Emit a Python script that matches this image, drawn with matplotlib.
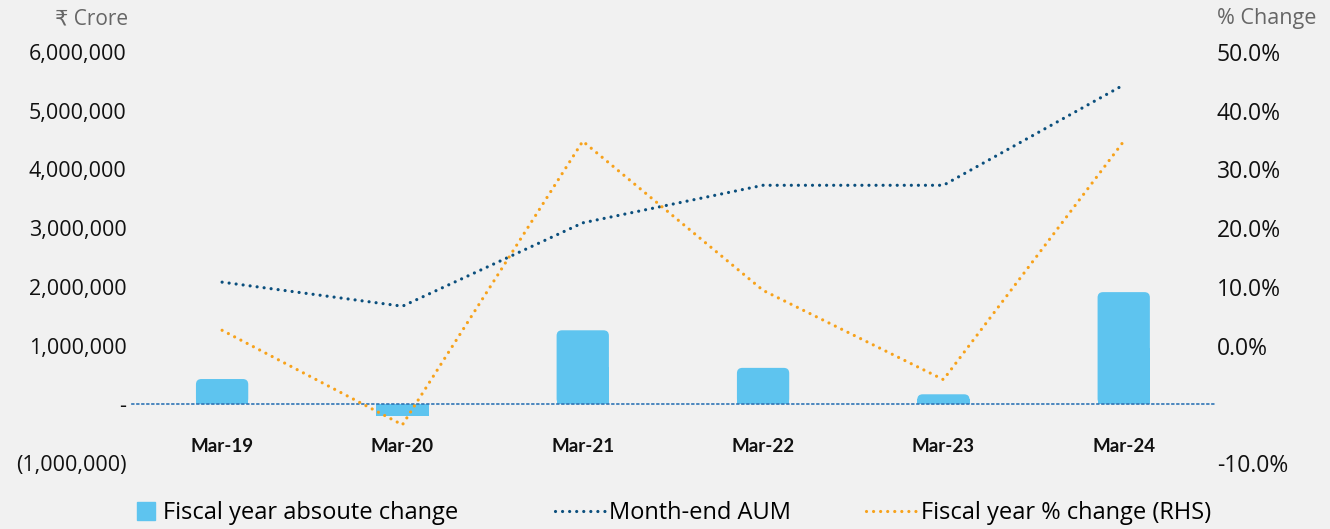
import matplotlib.pyplot as plt
from matplotlib.patches import FancyBboxPatch
from matplotlib.lines import Line2D
from matplotlib.ticker import FuncFormatter

plt.rcParams['font.family'] = ['Open Sans', 'DejaVu Sans']

months = ['Mar-19', 'Mar-20', 'Mar-21', 'Mar-22', 'Mar-23', 'Mar-24']
abs_change = [430000, -200000, 1260000, 620000, 170000, 1910000]
aum = [2080000, 1670000, 3090000, 3730000, 3730000, 5440000]
pct_change = [2.6, -13.5, 34.8, 9.4, -5.8, 34.8]

left_ticks = [-1000000, 0, 1000000, 2000000, 3000000, 4000000, 5000000, 6000000]
# right axis labels as printed on the original (bottom label reads -10.0%)
right_ticks = [-20, 0, 10, 20, 30, 40, 50]
right_labels = ['-10.0%', '0.0%', '10.0%', '20.0%', '30.0%', '40.0%', '50.0%']

bar_col = '#5ec4ef'
aum_col = '#0b4f7d'
pct_col = '#f7a21b'
bg = '#f1f1f1'
dots = (0, (0.01, 2.2))

fig = plt.figure(figsize=(13.3, 5.29), dpi=100, facecolor=bg)
ax = fig.add_axes([0.0992, 0.1248, 0.8135, 0.7769])
ax.set_facecolor(bg)
ax2 = ax.twinx()

# spines first: moving a spine resets the ticks
for s in ['top', 'left', 'right']:
    ax.spines[s].set_visible(False)
    ax2.spines[s].set_visible(False)
ax2.spines['bottom'].set_visible(False)
ax.spines['bottom'].set_position(('data', 0))
ax.spines['bottom'].set_linestyle((0, (1, 2)))
ax.spines['bottom'].set_color('#2e75b6')
ax.spines['bottom'].set_linewidth(1.2)

x = list(range(len(months)))
w = 0.29

# bars, positive ones with rounded top corners
for xi, v in zip(x, abs_change):
    if v > 0:
        box = FancyBboxPatch((xi - w / 2, 0), w, v,
                             boxstyle='round,pad=0,rounding_size=0.03',
                             mutation_aspect=3.08e6, fc=bar_col, ec='none', zorder=2)
        ax.add_patch(box)
        ax.bar(xi, v / 2, width=w, color=bar_col, zorder=2)
    else:
        ax.bar(xi, v, width=w, color=bar_col, zorder=2)

ax.plot(x, aum, color=aum_col, lw=2.3, linestyle=dots,
        dash_capstyle='round', zorder=3)
ax2.plot(x, pct_change, color=pct_col, lw=2.3, linestyle=dots,
         dash_capstyle='round', zorder=3)

ax.set_xlim(-0.5, 5.5)
ax.set_ylim(-1000000, 6000000)
ax2.set_ylim(-20, 50)

ax.set_yticks(left_ticks)
def fmt(v, pos):
    if v == 0:
        return '-'
    if v < 0:
        return '({:,.0f})'.format(-v)
    return '{:,.0f}'.format(v)
ax.yaxis.set_major_formatter(FuncFormatter(fmt))
ax2.set_yticks(right_ticks)
ax2.set_yticklabels(right_labels)

ax.tick_params(axis='x', length=0, pad=24, colors='#111111')
ax.tick_params(axis='y', length=0, pad=4, labelsize=15.5, colors='#111111')
ax2.tick_params(axis='y', length=0, pad=2, labelsize=16.5, colors='#111111')
ax.set_xticks(x, months, fontsize=13.5, fontweight='bold',
              family=['Lato', 'Liberation Sans', 'DejaVu Sans'])

fig.text(0.0965, 0.965, '\u20b9 Crore', ha='right', va='center', fontsize=15, color='#666666')
fig.text(0.99, 0.965, '% Change', ha='right', va='center', fontsize=15.5, color='#666666')

leg1 = fig.legend(handles=[Line2D([], [], marker='s', ls='none', ms=13, color=bar_col)],
                  labels=['Fiscal year absoute change'], loc='center left',
                  bbox_to_anchor=(0.0867, 0.03), frameon=False, fontsize=17,
                  handlelength=0.8, handletextpad=0.3)
leg2 = fig.legend(handles=[Line2D([], [], color=aum_col, lw=2.3, ls=dots, dash_capstyle='round'),
                           Line2D([], [], color=pct_col, lw=2.3, ls=dots, dash_capstyle='round')],
                  labels=['Month-end AUM', 'Fiscal year % change (RHS)'], loc='center left',
                  bbox_to_anchor=(0.401, 0.03), frameon=False, fontsize=17, ncol=2,
                  handlelength=2.2, handletextpad=0.1, columnspacing=3.2)

fig.savefig('out.png', dpi=100, facecolor=bg)
